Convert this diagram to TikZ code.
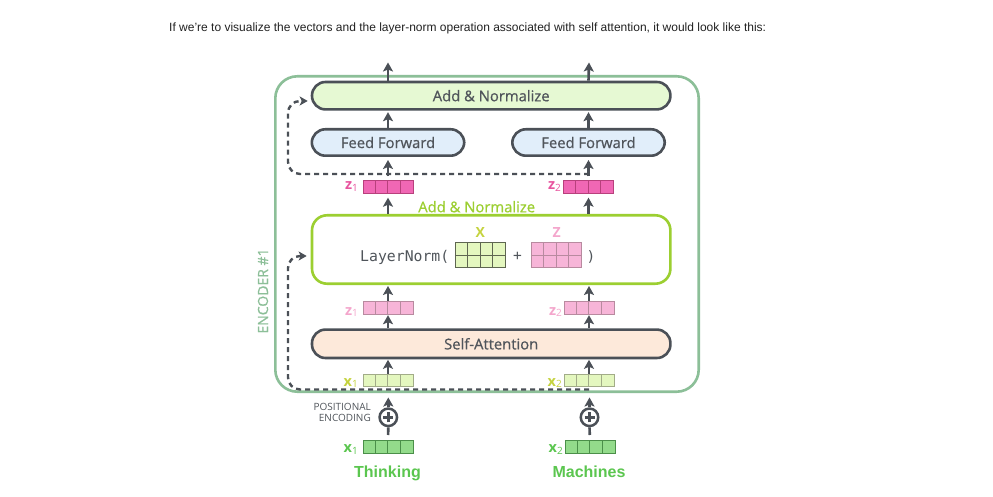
\documentclass[tikz,border=0pt]{standalone}
\usepackage{fontspec}
\setmainfont{Open Sans}
\newfontfamily\osmed[FakeBold=0.7]{Open Sans}
\newfontfamily\arialf{Liberation Sans}
\newfontfamily\monof{DejaVu Sans Mono}
\usetikzlibrary{arrows.meta}
\definecolor{dgray}{HTML}{4B5057}
\definecolor{txtgray}{HTML}{50555B}
\definecolor{encg}{HTML}{8CBF98}
\definecolor{anfill}{HTML}{E6F9D3}
\definecolor{fffill}{HTML}{E1EEFA}
\definecolor{safill}{HTML}{FDE9DA}
\definecolor{lngreen}{HTML}{9CCF31}
\definecolor{zdfill}{HTML}{F067B4}
\definecolor{zddraw}{HTML}{B8407C}
\definecolor{zdtext}{HTML}{E8559F}
\definecolor{zlfill}{HTML}{F7B5D8}
\definecolor{zldraw}{HTML}{B88A9F}
\definecolor{zltext}{HTML}{F4A6CC}
\definecolor{xlfill}{HTML}{E4F7BF}
\definecolor{xldraw}{HTML}{A2AC88}
\definecolor{xltext}{HTML}{C5D33F}
\definecolor{xmdraw}{HTML}{5E6650}
\definecolor{xgfill}{HTML}{93DB8B}
\definecolor{xgdraw}{HTML}{4B8F49}
\definecolor{xgtext}{HTML}{5BC64F}
\definecolor{captxt}{HTML}{222222}
\newcommand\cellvec[5]{%
  \node[vecnode, fill=#3, draw=#4] (#1) at (#2) {};
  \foreach \i in {1,2,3} \draw[#4, line width=0.8pt] ([xshift=\i*12.5pt]#1.south west) -- ([xshift=\i*12.5pt]#1.north west);
}
\newcommand\cellmat[4]{%
  \node[matnode, fill=#3, draw=#4] (#1) at (#2) {};
  \foreach \i in {1,2,3} \draw[#4, line width=0.8pt] ([xshift=\i*12.5pt]#1.south west) -- ([xshift=\i*12.5pt]#1.north west);
  \draw[#4, line width=0.8pt] (#1.west) -- (#1.east);
}
\newcommand\sub[1]{\raisebox{-1.5pt}{\fontsize{10}{10}\selectfont\mdseries #1}}
\begin{document}
\begin{tikzpicture}[x=1pt,y=-1pt,
  pill/.style={draw=dgray, line width=2.6pt, rounded corners=13.5pt, minimum width=358.4pt, minimum height=27.4pt, inner sep=0pt, text=txtgray, font=\osmed\fontsize{14.8}{16}\selectfont},
  ffpill/.style={pill, minimum width=152.4pt, minimum height=26.4pt},
  lnbox/.style={draw=lngreen, line width=2.6pt, rounded corners=15pt, minimum width=358.4pt, minimum height=68.4pt, inner sep=0pt},
  encbox/.style={draw=encg, line width=2.6pt, rounded corners=22pt, minimum width=423.4pt, minimum height=315.4pt, inner sep=0pt},
  vecnode/.style={rectangle, line width=0.8pt, minimum width=50pt, minimum height=12.6pt, inner sep=0pt},
  matnode/.style={vecnode, minimum height=25pt},
  arr/.style={draw=dgray, line width=2.6pt, -{Stealth[length=9pt, width=10pt, inset=2pt]}},
  plain/.style={draw=dgray, line width=2.6pt},
  res/.style={draw=dgray, line width=2.4pt, dash pattern=on 5pt off 4pt, rounded corners=12pt, -{Stealth[length=8pt, width=9pt, inset=2pt]}},
  vlab/.style={anchor=base east, inner sep=0pt, font=\fontsize{14.5}{14}\selectfont\bfseries},
  wordlab/.style={inner sep=0pt, text=xgtext, font=\arialf\fontsize{16}{16}\selectfont\bfseries},
  pecircle/.style={circle, draw=dgray, line width=2.5pt, minimum size=17.5pt, inner sep=0pt}
]
\useasboundingbox (0,0) rectangle (993,497);
\fill[white] (0,0) rectangle (993,497);

% caption
\node[anchor=base west, inner sep=0pt, text=captxt, font=\arialf\fontsize{12}{14}\selectfont] (cap) at (169,32)
  {If we’re to visualize the vectors and the layer-norm operation associated with self attention, it would look like this:};

% encoder frame
\node[encbox] (enc) at (487,234) {};
\node[rotate=90, inner sep=0pt, text=encg, font=\osmed\fontsize{14}{14}\selectfont] (enclab) at (263,291) {ENCODER \#1};

% main blocks
\node[pill, fill=anfill] (an2) at (491.2,95.7) {Add \& Normalize};
\node[ffpill, fill=fffill] (ffL) at (388,142.5) {Feed Forward};
\node[ffpill, fill=fffill] (ffR) at (588.5,142.5) {Feed Forward};
\node[lnbox] (ln) at (491.2,249.5) {};
\node[pill, fill=safill, minimum height=28.4pt] (sa) at (491.2,343.8) {Self-Attention};

% add & normalize label
\node[inner sep=0pt, text=lngreen, font=\osmed\fontsize{14.8}{16}\selectfont] (anlab) at (476.7,206.7) {Add \& Normalize};

% layernorm contents
\node[anchor=base west, inner sep=0pt, text=txtgray, font=\monof\fontsize{14.8}{16}\selectfont] (lntext) at (360,261.5) {LayerNorm(};
\cellmat{Xm}{480.3,255.2}{xlfill}{xmdraw}
\node[inner sep=0pt, text=txtgray, font=\monof\fontsize{14.5}{16}\selectfont] (plus) at (517.5,256.5) {+};
\cellmat{Zm}{556.3,255.2}{zlfill}{zldraw}
\node[inner sep=0pt, text=txtgray, font=\monof\fontsize{14.5}{16}\selectfont] (rpar) at (591,256.5) {)};
\node[inner sep=0pt, text=xltext, font=\fontsize{14}{14}\selectfont\bfseries] (Xlab) at (480.3,232.7) {X};
\node[inner sep=0pt, text=zltext, font=\fontsize{14}{14}\selectfont\bfseries] (Zlab) at (556.7,232.7) {Z};

% vectors
\cellvec{zdL}{388,187}{zdfill}{zddraw}{}
\cellvec{zdR}{588.5,187}{zdfill}{zddraw}{}
\cellvec{zlL}{388,308}{zlfill}{zldraw}{}
\cellvec{zlR}{589,308}{zlfill}{zldraw}{}
\cellvec{xlL}{388,380.5}{xlfill}{xldraw}{}
\cellvec{xlR}{589,380.5}{xlfill}{xldraw}{}
\cellvec{xgL}{388,446.7}{xgfill}{xgdraw}{}
\cellvec{xgR}{590,446.7}{xgfill}{xgdraw}{}

% vector labels
\node[vlab, text=zdtext] (zdLl) at (358,190) {z\sub{1}};
\node[vlab, text=zdtext] (zdRl) at (561,190) {z\sub{2}};
\node[vlab, text=zltext] (zlLl) at (358,315) {z\sub{1}};
\node[vlab, text=zltext] (zlRl) at (562,315) {z\sub{2}};
\node[vlab, text=xltext] (xlLl) at (358,386) {x\sub{1}};
\node[vlab, text=xltext] (xlRl) at (562,386) {x\sub{2}};
\node[vlab, text=xgtext] (xgLl) at (358,452.5) {x\sub{1}};
\node[vlab, text=xgtext] (xgRl) at (563,452.5) {x\sub{2}};

% words
\node[wordlab, anchor=base] (think) at (387.5,477) {Thinking};
\node[wordlab, anchor=base] (mach) at (589,477) {Machines};

% positional encoding
\node[pecircle] (peL) at (388.3,417.3) {};
\node[pecircle] (peR) at (589.5,417.3) {};
\foreach \p in {peL,peR} {
  \draw[dgray, line width=2.4pt] ([xshift=-5pt]\p.center) -- ([xshift=5pt]\p.center);
  \draw[dgray, line width=2.4pt] ([yshift=-5pt]\p.center) -- ([yshift=5pt]\p.center);
}
\node[anchor=east, align=right, inner sep=0pt, text=txtgray, font=\fontsize{10}{11}\selectfont] (pelab) at (371,412) {POSITIONAL\\ENCODING};

% coordinates for free ends
\coordinate (outL) at (388,62.5);
\coordinate (outR) at (589,62.5);
\coordinate (inL) at (388.3,397.5);
\coordinate (inR) at (589.5,397.5);

% arrows, both columns
\draw[plain, shorten <=5pt] (xgL.north) -- (peL.south);
\draw[plain, shorten <=5pt] (xgR.north) -- (peR.south);
\draw[arr] (peL.north) -- (inL);
\draw[arr] (peR.north) -- (inR);
\draw[arr, shorten >=0.5pt] (xlL.north) -- (sa.south -| xlL.north);
\draw[arr, shorten >=0.5pt] (xlR.north) -- (sa.south -| xlR.north);
\draw[arr, shorten >=0.5pt] (sa.north -| zlL.south) -- (zlL.south);
\draw[arr, shorten >=0.5pt] (sa.north -| zlR.south) -- (zlR.south);
\draw[arr, shorten >=1pt] (zlL.north) -- (ln.south -| zlL.north);
\draw[arr, shorten >=1pt] (zlR.north) -- (ln.south -| zlR.north);
\draw[arr, shorten >=4pt] (ln.north -| zdL.south) -- (zdL.south);
\draw[arr, shorten >=4pt] (ln.north -| zdR.south) -- (zdR.south);
\draw[arr, shorten <=4pt, shorten >=3pt] (zdL.north) -- (ffL.south);
\draw[arr, shorten <=4pt, shorten >=3pt] (zdR.north) -- (ffR.south -| zdR.north);
\draw[arr, shorten >=1.5pt] (ffL.north) -- (an2.south -| ffL.north);
\draw[arr, shorten >=1.5pt] (ffR.north) -- (an2.south -| ffR.north);
\draw[arr] (an2.north -| zdL.north) -- (outL);
\draw[arr] (an2.north -| zdR.north) -- (outR);

% residual connections
\coordinate (r1s) at (589,389.5);
\coordinate (r1c) at (288,256);
\coordinate (r2s) at (589,174);
\coordinate (r2c) at (288,101);
\draw[res, shorten >=4pt] (r1s) -| (r1c) -- ([yshift=-6.5pt]ln.west);
\draw[res, shorten >=3pt] (r2s) -| (r2c) -- ([yshift=-5.3pt]an2.west);
\end{tikzpicture}
\end{document}
